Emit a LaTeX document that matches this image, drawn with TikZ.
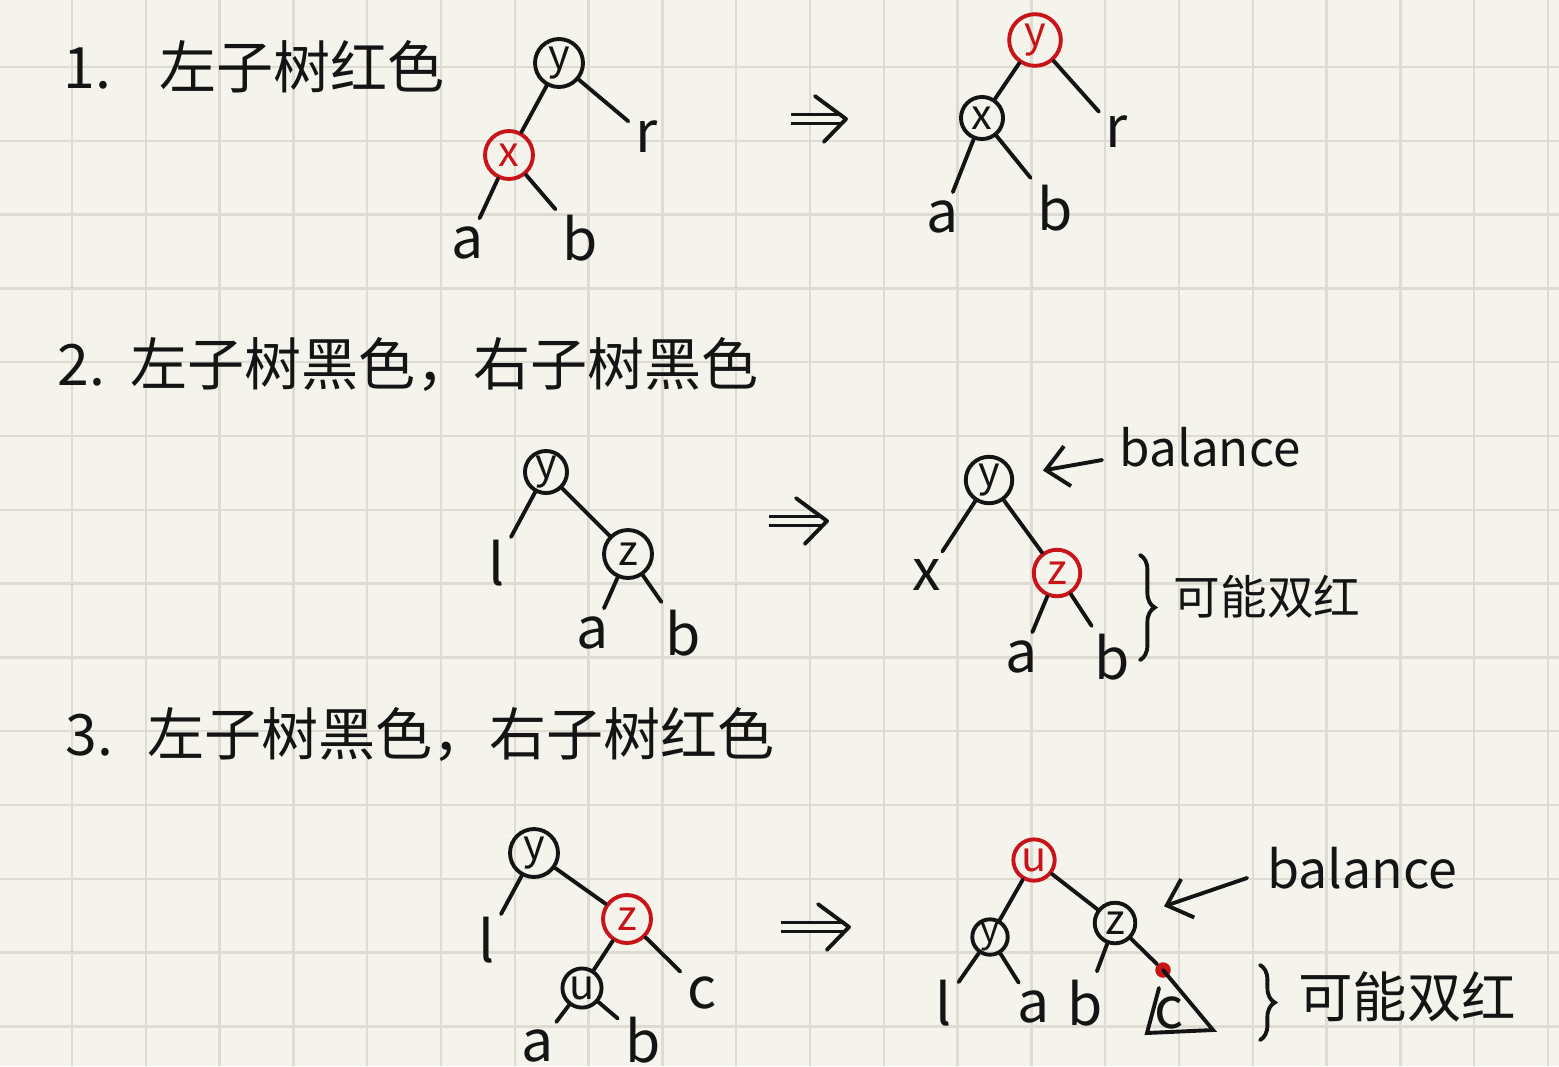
\documentclass[tikz,border=0pt]{standalone}
\usepackage{fontspec}
\setmainfont{Noto Sans CJK SC}
\usetikzlibrary{arrows.meta,decorations.pathreplacing}
\definecolor{paper}{RGB}{245,244,236}
\definecolor{gridc}{RGB}{222,220,210}
\definecolor{ink}{RGB}{20,20,20}
\definecolor{nodered}{RGB}{200,20,25}
\tikzset{
  gridline/.style={draw=gridc, line width=0.95pt},
  bnode/.style={circle, draw=ink, text=ink, line width=1.5pt, minimum size=0.62cm, inner sep=0pt, font=\fontsize{16}{16}\selectfont},
  rnode/.style={bnode, draw=nodered, text=nodered},
  leaf/.style={inner sep=1pt, text=ink, font=\fontsize{22}{22}\selectfont},
  edge/.style={draw=ink, line width=1.5pt, line cap=round},
  twig/.style={edge, shorten >=0.08cm},
  heading/.style={anchor=base west, inner sep=0pt, text=ink, font=\fontsize{22}{26}\selectfont},
  note/.style={inner sep=0pt, text=ink, font=\fontsize{20}{20}\selectfont},
  implies/.style={draw=ink, line width=1.4pt, double=paper, double distance=0.07cm, shorten >=0.05cm},
  chevron/.style={edge, line join=round},
  pointer/.style={edge, -{Straight Barb[length=0.3cm,width=0.55cm]}, shorten >=0.4cm},
  bracel/.style={edge, decorate, decoration={brace, amplitude=0.2cm}},
  reddot/.style={circle, fill=nodered, inner sep=0pt, minimum size=0.21cm}
}
\begin{document}
\begin{tikzpicture}[x=0.01355cm, y=-0.01355cm]
  \fill[paper] (0,0) rectangle (1559,1066);
  \useasboundingbox (0,0) rectangle (1559,1066);
  \foreach \k in {0,...,20}
    \draw[gridline] ({72+73.8*\k},0) -- ({72+73.8*\k},1066);
  \foreach \k in {0,...,13}
    \draw[gridline] (0,{67+73.8*\k}) -- (1559,{67+73.8*\k});

  \node[heading] (h1) at (63,88) {1.\hspace{0.85em}左子树红色};
  \node[heading] (h2) at (57,385) {2.\hspace{0.45em}左子树黑色，右子树黑色};
  \node[heading] (h3) at (65,755) {3.\hspace{0.6em}左子树黑色，右子树红色};

  \node[bnode, minimum size=0.65cm] (y1) at (559,63) {y};
  \node[rnode, minimum size=0.65cm] (x1) at (509,155) {x};
  \node[leaf] (r1) at (647,137) {r};
  \node[leaf] (a1) at (468,243) {a};
  \node[leaf] (b1) at (580,238) {b};
  \draw[edge] (y1) -- (x1);
  \draw[twig] (y1) -- (r1);
  \draw[twig] (x1) -- (a1);
  \draw[twig] (x1) -- (b1);
  \coordinate (imp1s) at (791,119);
  \coordinate (imp1e) at (846,119);
  \draw[implies] (imp1s) -- (imp1e);
  \draw[chevron] ([xshift=-0.42cm,yshift=0.31cm]imp1e) -- (imp1e) -- ([xshift=-0.3cm,yshift=-0.31cm]imp1e);
  \node[rnode, minimum size=0.7cm] (y1r) at (1035,40) {y};
  \node[bnode, minimum size=0.57cm] (x1r) at (982,118) {x};
  \node[leaf] (r1r) at (1117,132) {r};
  \node[leaf] (a1r) at (943,217) {a};
  \node[leaf] (b1r) at (1055,208) {b};
  \draw[edge] (y1r) -- (x1r);
  \draw[twig] (y1r) -- (r1r);
  \draw[twig] (x1r) -- (a1r);
  \draw[twig] (x1r) -- (b1r);

  \node[bnode, minimum size=0.57cm] (y2) at (546,472) {y};
  \node[bnode, minimum size=0.65cm] (z2) at (628,554) {z};
  \node[leaf] (l2) at (497,563) {l};
  \node[leaf] (a2) at (593,633) {a};
  \node[leaf] (b2) at (683,633) {b};
  \draw[edge] (y2) -- (z2);
  \draw[twig] (y2) -- (l2);
  \draw[twig] (z2) -- (a2);
  \draw[twig] (z2) -- (b2);
  \coordinate (imp2s) at (769,521);
  \coordinate (imp2e) at (827,521);
  \draw[implies] (imp2s) -- (imp2e);
  \draw[chevron] ([xshift=-0.42cm,yshift=0.31cm]imp2e) -- (imp2e) -- ([xshift=-0.3cm,yshift=-0.31cm]imp2e);
  \node[bnode, minimum size=0.63cm] (y2r) at (989,480) {y};
  \node[rnode, minimum size=0.63cm] (z2r) at (1057,573) {z};
  \node[leaf] (x2r) at (927,575) {x};
  \node[leaf] (a2r) at (1022,657) {a};
  \node[leaf] (b2r) at (1112,657) {b};
  \draw[edge] (y2r) -- (z2r);
  \draw[twig] (y2r) -- (x2r);
  \draw[twig] (z2r) -- (a2r);
  \draw[twig] (z2r) -- (b2r);
  \node[note, font=\fontsize{19}{19}\selectfont] (bal2) at (1210,447) {balance};
  \coordinate (bal2tail) at (1102,460);
  \draw[pointer] (bal2tail) -- (y2r);
  \coordinate (br2t) at (1140,555);
  \coordinate (br2b) at (1140,660);
  \draw[bracel] (br2t) -- (br2b);
  \node[note, font=\fontsize{18}{18}\selectfont] (dr2) at (1267,597) {可能双红};

  \node[bnode, minimum size=0.65cm] (y3) at (534,853) {y};
  \node[rnode, minimum size=0.65cm] (z3) at (627,919) {z};
  \node[bnode, minimum size=0.53cm] (u3) at (582,988) {u};
  \node[leaf] (l3) at (487,940) {l};
  \node[leaf] (c3) at (702,993) {c};
  \node[leaf] (a3) at (538,1046) {a};
  \node[leaf] (b3) at (643,1040) {b};
  \draw[edge] (y3) -- (z3);
  \draw[edge] (z3) -- (u3);
  \draw[twig] (y3) -- (l3);
  \draw[twig] (z3) -- (c3);
  \draw[twig] (u3) -- (a3);
  \draw[twig] (u3) -- (b3);
  \coordinate (imp3s) at (781,927);
  \coordinate (imp3e) at (849,927);
  \draw[implies] (imp3s) -- (imp3e);
  \draw[chevron] ([xshift=-0.42cm,yshift=0.31cm]imp3e) -- (imp3e) -- ([xshift=-0.3cm,yshift=-0.31cm]imp3e);
  \node[rnode, minimum size=0.56cm] (u3r) at (1034,860) {u};
  \node[bnode, minimum size=0.55cm] (z3r) at (1115,923) {z};
  \node[bnode, minimum size=0.48cm, font=\fontsize{14}{14}\selectfont] (y3r) at (990,937) {y};
  \node[leaf] (l3r) at (944,1003) {l};
  \node[leaf] (a3r) at (1034,1007) {a};
  \node[leaf] (b3r) at (1085,1003) {b};
  \node[reddot] (dot3) at (1163,970) {};
  \node[leaf] (c3r) at (1169,1013) {c};
  \draw[edge] (u3r) -- (y3r);
  \draw[edge] (u3r) -- (z3r);
  \draw[twig] (y3r) -- (l3r);
  \draw[twig] (y3r) -- (a3r);
  \draw[twig] (z3r) -- (b3r);
  \draw[edge] (z3r) -- (dot3);
  \coordinate (tri3r) at (1213,1030);
  \coordinate (tri3l) at (1147,1033);
  \coordinate (tri3t) at (1159,988);
  \draw[edge] (dot3.center) -- (tri3r) -- (tri3l) -- (tri3t);
  \node[note] (bal3) at (1362,868) {balance};
  \coordinate (bal3tail) at (1247,878);
  \draw[pointer] (bal3tail) -- (z3r);
  \coordinate (br3t) at (1260,965);
  \coordinate (br3b) at (1260,1040);
  \draw[bracel] (br3t) -- (br3b);
  \node[note, font=\fontsize{21}{21}\selectfont] (dr3) at (1407,997) {可能双红};
\end{tikzpicture}
\end{document}
